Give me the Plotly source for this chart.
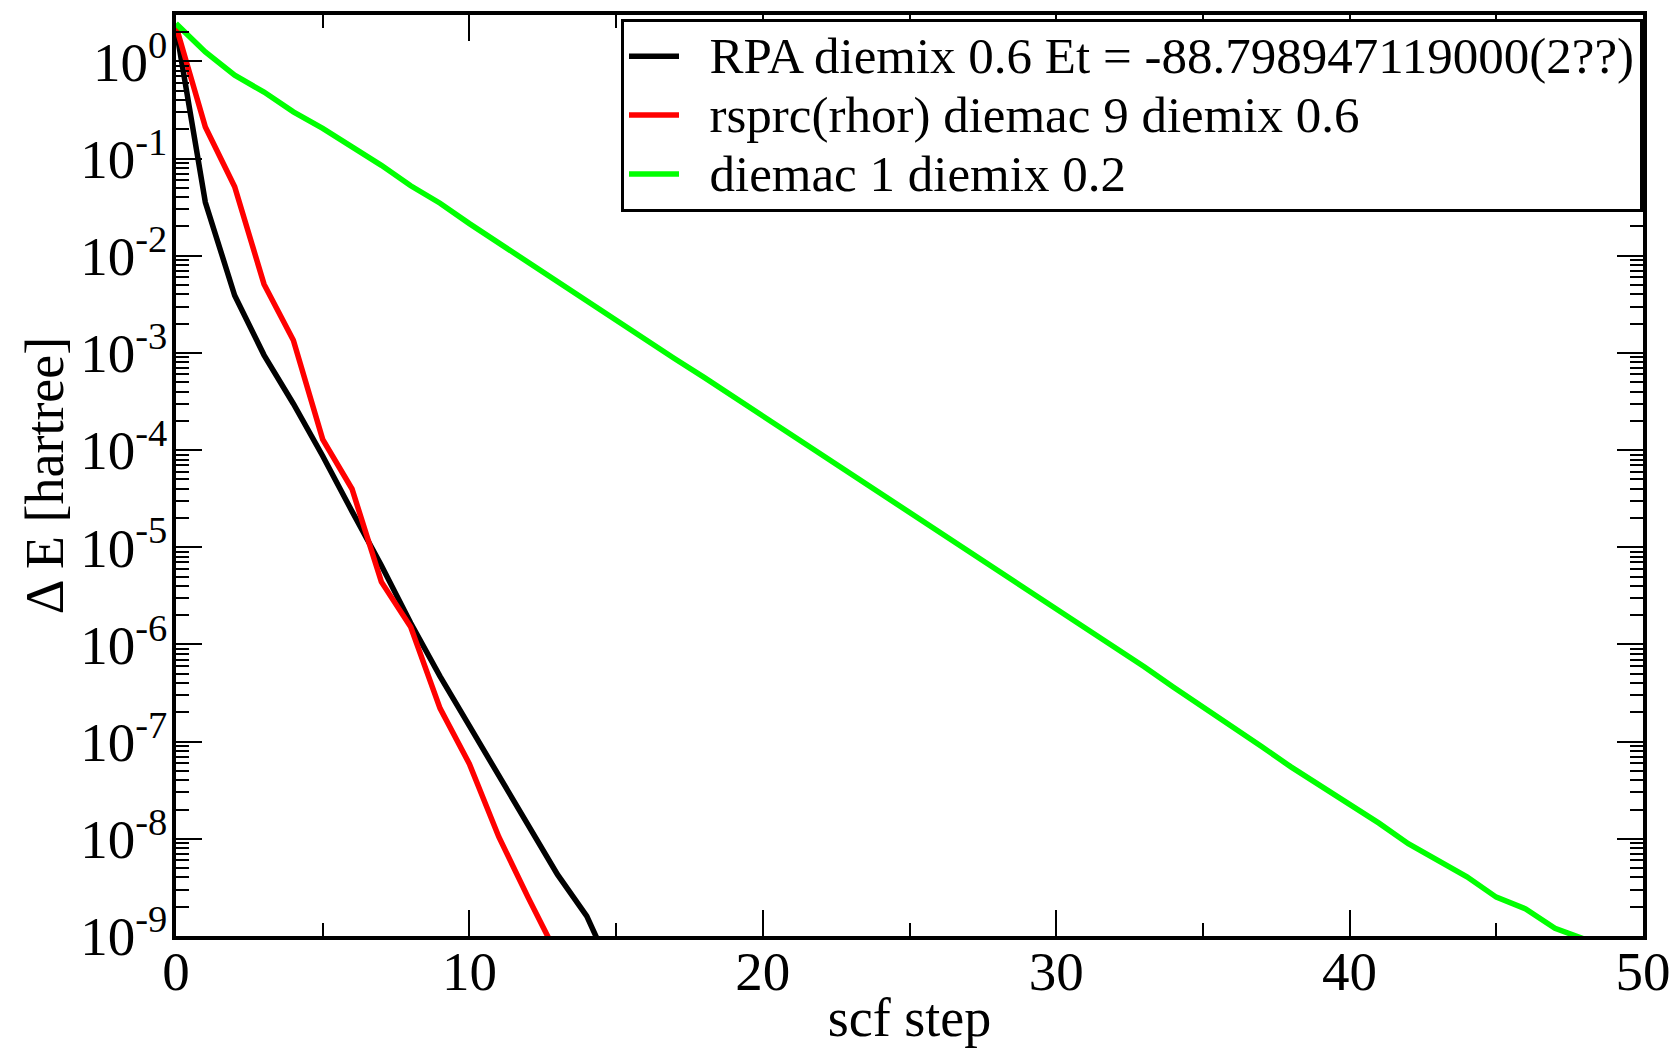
import plotly.graph_objects as go

# ---- data ----
steps_black = list(range(0, 16))
rpa_black = [2.2, 0.0355, 0.0039, 9.5e-4, 3.0e-4, 8.7e-5, 2.34e-5, 6.5e-6, 1.66e-6,
             4.7e-7, 1.45e-7, 4.5e-8, 1.38e-8, 4.3e-9, 1.6e-9, 3.5e-10]

steps_red = list(range(0, 14))
rsprc_red = [2.3, 0.211, 0.0513, 5.1e-3, 1.35e-3, 1.29e-4, 3.98e-5, 4.4e-6, 1.51e-6,
             2.2e-7, 5.9e-8, 1.05e-8, 2.5e-9, 6.3e-10]

steps_green = list(range(0, 49))
diemac_green = [2.45, 1.25, 0.72, 0.483, 0.302, 0.204, 0.132, 0.0851, 0.0525, 0.0347,
                0.0214, 0.0135, 0.0085, 0.0054, 0.00347, 0.00219, 0.00138, 8.7e-4, 5.6e-4,
                3.55e-4, 2.24e-4, 1.41e-4, 8.9e-5, 5.75e-5, 3.63e-5, 2.29e-5, 1.45e-5,
                9.1e-6, 5.9e-6, 3.72e-6, 2.34e-6, 1.48e-6, 9.3e-7, 5.9e-7, 3.63e-7,
                2.29e-7, 1.41e-7, 8.9e-8, 5.5e-8, 3.55e-8, 2.24e-8, 1.45e-8, 8.9e-9,
                6.0e-9, 4.07e-9, 2.51e-9, 1.9e-9, 1.2e-9, 9.3e-10]

names = ["RPA diemix 0.6 Et = -88.798947119000(2??)",
         "rsprc(rhor) diemac 9 diemix 0.6",
         "diemac 1 diemix 0.2"]
colors = ["#000000", "#ff0000", "#00ff00"]

y_major_exp = list(range(-9, 1))
y_major_vals = [10.0 ** e for e in y_major_exp]
y_major_text = ["10<sup>%d</sup>" % e for e in y_major_exp]
y_minor_vals = [k * 10.0 ** e for e in range(-9, 1) for k in range(2, 10) if k * 10.0 ** e <= 3.0]

x_tick_vals = [0, 10, 20, 30, 40, 50]

FONT = "Liberation Serif, Times New Roman, serif"
GAP = "\u00a0\u00a0"  # small visual gap between legend line and its label


def legend_label(txt):
    # rendered at 51px while the legend rows are spaced for a tighter line height
    return '<span style="font-size:51px">' + GAP + txt + "</span>"


fig = go.Figure()
for xs, ys, nm, col in [(steps_black, rpa_black, names[0], colors[0]),
                        (steps_red, rsprc_red, names[1], colors[1]),
                        (steps_green, diemac_green, names[2], colors[2])]:
    fig.add_trace(go.Scatter(x=xs, y=ys, mode="lines", name=legend_label(nm),
                             line=dict(color=col, width=5.5)))

fig.update_layout(
    width=1677, height=1048,
    margin=dict(l=176, r=34, t=15, b=112, autoexpand=False),
    paper_bgcolor="white", plot_bgcolor="white",
    font=dict(family=FONT, size=52, color="black"),
    showlegend=True,
    legend=dict(x=1.0, xanchor="right", y=0.996, yanchor="top",
                bgcolor="white", bordercolor="black", borderwidth=3,
                font=dict(family=FONT, size=43, color="black"),
                tracegroupgap=0, itemwidth=50),
)

fig.update_xaxes(
    range=[0, 50], tickvals=x_tick_vals, ticktext=[str(v) for v in x_tick_vals],
    showgrid=False, zeroline=False, automargin=False,
    showline=True, linecolor="black", linewidth=3.5, mirror="allticks",
    ticks="inside", ticklen=26, tickwidth=2, tickcolor="black",
    tickfont=dict(family=FONT, size=55, color="black"),
    ticklabelstandoff=-16,
    minor=dict(tickvals=[5, 15, 25, 35, 45], ticks="inside", ticklen=13,
               tickwidth=2, tickcolor="black", showgrid=False),
    title=dict(text="scf step", font=dict(family=FONT, size=54, color="black"), standoff=0),
)

fig.update_yaxes(
    type="log", range=[-9, 0.4771], automargin=False,
    tickvals=y_major_vals, ticktext=y_major_text,
    showgrid=False, zeroline=False,
    showline=True, linecolor="black", linewidth=3.5, mirror="allticks",
    ticks="inside", ticklen=26, tickwidth=2, tickcolor="black",
    tickfont=dict(family=FONT, size=55, color="black"),
    ticklabelstandoff=-6,
    minor=dict(tickvals=y_minor_vals, ticks="inside", ticklen=13,
               tickwidth=2, tickcolor="black", showgrid=False),
    title=dict(text="Δ E [hartree]", font=dict(family=FONT, size=54, color="black"), standoff=0),
)

fig.write_html("out.html",
               config={"displayModeBar": False},
               post_script="document.body.style.margin='0';document.body.style.overflow='hidden';")
